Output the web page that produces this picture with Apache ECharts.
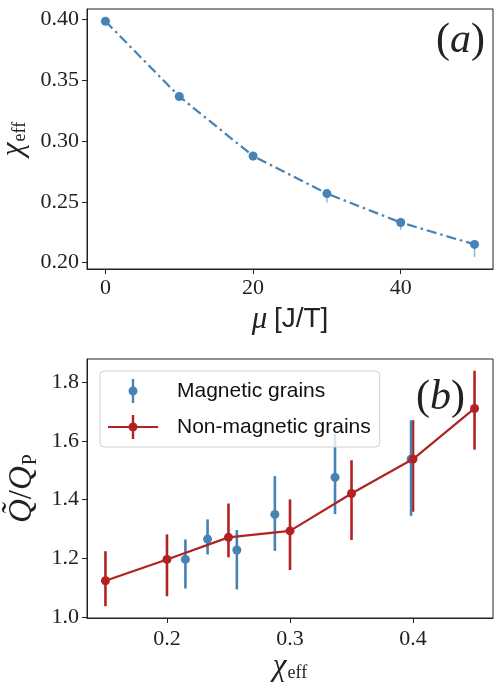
<!DOCTYPE html>
<html>
<head>
<meta charset="utf-8">
<script src="https://cdn.jsdelivr.net/npm/echarts@6/dist/echarts.min.js"></script>
<style>
html, body { margin: 0; padding: 0; background: #fff; }
#chart { width: 495px; height: 682px; }
</style>
</head>
<body>
<div id="chart"></div>
<script>
// (a) chi_eff against mu
const muValues = [0, 10, 20, 30, 40, 50];
const chiValues = [0.3984, 0.3366, 0.2877, 0.2568, 0.2330, 0.2150];
const chiLower = [0.3965, 0.3330, 0.2840, 0.2494, 0.2270, 0.2046];

// (b) Q~/Q_P against chi_eff
const magChi = [0.2150, 0.2330, 0.2568, 0.2877, 0.3366, 0.3984];
const magQ = [1.197, 1.266, 1.229, 1.350, 1.476, 1.538];
const magLow = [1.098, 1.214, 1.095, 1.226, 1.351, 1.345];
const magHigh = [1.265, 1.333, 1.297, 1.480, 1.625, 1.670];

const nonMagChi = [0.15, 0.20, 0.25, 0.30, 0.35, 0.40, 0.45];
const nonMagQ = [1.1245, 1.197, 1.272, 1.294, 1.421, 1.538, 1.710];
const nonMagLow = [1.038, 1.072, 1.204, 1.161, 1.263, 1.359, 1.570];
const nonMagHigh = [1.225, 1.282, 1.387, 1.401, 1.534, 1.670, 1.838];

// tick labels
const muTicks = [0, 20, 40];
const chiTicks = [0.20, 0.25, 0.30, 0.35, 0.40];
const chiEffTicks = [0.2, 0.3, 0.4];
const qTicks = [1.0, 1.2, 1.4, 1.6, 1.8];

const serif = 'Liberation Serif';
const sans = 'Liberation Sans';
const blue = '#4682b4';
const red = '#b22222';
const ink = '#222';

const chart = echarts.init(document.getElementById('chart'));

function zip() {
    const cols = Array.prototype.slice.call(arguments);
    return cols[0].map((v, i) => cols.map(c => c[i]));
}

// vertical error bars drawn through the axes
function errorBars(x, y, data, color, width, dash, opacity) {
    return {
        type: 'custom',
        xAxisIndex: x,
        yAxisIndex: y,
        silent: true,
        data: data,
        encode: { x: 0, y: [1, 2] },
        renderItem: function (params, api) {
            const a = api.coord([api.value(0), api.value(1)]);
            const b = api.coord([api.value(0), api.value(2)]);
            return {
                type: 'line',
                shape: { x1: a[0], y1: a[1], x2: b[0], y2: b[1] },
                style: { stroke: color, lineWidth: width, lineDash: dash || null, opacity: opacity || 1 }
            };
        }
    };
}

function axis(extra) {
    const base = {
        type: 'value',
        axisLine: { show: true, onZero: false, lineStyle: { color: ink, width: 1 } },
        axisTick: { show: true, inside: false, length: 5, lineStyle: { color: ink } },
        splitLine: { show: false },
        axisLabel: { fontFamily: serif, fontSize: 22, color: ink }
    };
    return Object.assign(base, extra);
}

const mathRich = {
    i: { fontFamily: serif, fontStyle: 'italic', fontSize: 31, color: ink, verticalAlign: 'top' },
    s: { fontFamily: serif, fontSize: 18, color: ink, verticalAlign: 'top', padding: [13, 0, 0, 1] },
    r: { fontFamily: serif, fontSize: 30, color: ink, verticalAlign: 'top' },
    t: { fontFamily: sans, fontSize: 28, color: ink, verticalAlign: 'top', padding: [1, 0, 0, 0] }
};

// legend icons, 64x24 boxes (zero-area points fix the box)
const box = 'M0 0 L0 0 M64 24 L64 24 ';
const dot = 'M20.5 12 A4.5 4.5 0 1 1 29.5 12 A4.5 4.5 0 1 1 20.5 12 Z ';
const vbar = 'M23.8 0 L26.2 0 L26.2 24 L23.8 24 Z ';
const hbar = 'M0 11 L50 11 L50 13 L0 13 Z ';
const blueIcon = 'path://' + box + vbar + dot;
const redIcon = 'path://' + box + hbar + vbar + dot;

const option = {
    animation: false,
    backgroundColor: '#fff',
    grid: [
        { left: 87, top: 9, width: 406, height: 260, show: true, borderColor: ink, borderWidth: 1, containLabel: false, outerBoundsMode: 'none' },
        { left: 87, top: 359, width: 406, height: 259, show: true, borderColor: ink, borderWidth: 1, containLabel: false, outerBoundsMode: 'none' }
    ],
    xAxis: [
        axis({
            gridIndex: 0, min: -2.5, max: 52.5,
            axisTick: { show: true, length: 5, lineStyle: { color: ink }, customValues: muTicks },
            axisLabel: { fontFamily: serif, fontSize: 22, color: ink, margin: 8, customValues: muTicks },
            name: '{i|μ}  {t|[J/T]}',
            nameLocation: 'middle',
            nameGap: 35,
            nameTextStyle: { rich: mathRich }
        }),
        axis({
            gridIndex: 1, min: 0.135, max: 0.465,
            axisTick: { show: true, length: 5, lineStyle: { color: ink }, customValues: chiEffTicks },
            axisLabel: { fontFamily: serif, fontSize: 22, color: ink, margin: 10, customValues: chiEffTicks,
                formatter: v => v.toFixed(1) },
            name: '{i|χ}{s|eff}',
            nameLocation: 'middle',
            nameGap: 33,
            nameTextStyle: { rich: mathRich }
        })
    ],
    yAxis: [
        axis({
            gridIndex: 0, min: 0.1948, max: 0.4085,
            axisTick: { show: true, length: 5, lineStyle: { color: ink }, customValues: chiTicks },
            axisLabel: { fontFamily: serif, fontSize: 22, color: ink, margin: 8, customValues: chiTicks,
                formatter: v => v.toFixed(2) },
            name: '{i|χ}{s|eff}',
            nameLocation: 'middle',
            nameRotate: 90,
            nameGap: 47,
            nameTextStyle: { rich: mathRich }
        }),
        axis({
            gridIndex: 1, min: 0.998, max: 1.878,
            axisTick: { show: true, length: 5, lineStyle: { color: ink }, customValues: qTicks },
            axisLabel: { fontFamily: serif, fontSize: 22, color: ink, margin: 8, customValues: qTicks,
                formatter: v => v.toFixed(1) },
            name: '{i|Q̃}{r|/}{i|Q}{s|P}',
            nameLocation: 'middle',
            nameRotate: 90,
            nameGap: 42,
            nameTextStyle: { rich: {
                i: { fontFamily: serif, fontStyle: 'italic', fontSize: 33, color: ink, verticalAlign: 'top' },
                r: { fontFamily: serif, fontSize: 33, color: ink, verticalAlign: 'top' },
                s: { fontFamily: serif, fontSize: 20, color: ink, verticalAlign: 'top', padding: [15, 0, 0, 1] }
            } }
        })
    ],
    legend: {
        orient: 'vertical',
        left: 100,
        top: 371,
        padding: [8, 9, 8, 8],
        itemGap: 12,
        itemWidth: 64,
        itemHeight: 24,
        backgroundColor: 'rgba(255,255,255,0.8)',
        borderColor: '#d0d0d0',
        borderWidth: 1,
        borderRadius: 4,
        itemStyle: { borderWidth: 0, opacity: 1 },
        textStyle: { fontFamily: sans, fontSize: 21, color: '#111' },
        data: [
            { name: 'Magnetic grains', icon: blueIcon },
            { name: 'Non-magnetic grains', icon: redIcon }
        ]
    },
    graphic: [
        {
            type: 'text', right: 10, top: 20,
            style: {
                text: '{p|(}{a|a}{p|)}',
                rich: {
                    p: { fontFamily: serif, fontSize: 42, fill: ink },
                    a: { fontFamily: serif, fontStyle: 'italic', fontSize: 42, fill: ink }
                }
            }
        },
        {
            type: 'text', left: 416, top: 377,
            style: {
                text: '{p|(}{a|b}{p|)}',
                rich: {
                    p: { fontFamily: serif, fontSize: 42, fill: ink },
                    a: { fontFamily: serif, fontStyle: 'italic', fontSize: 42, fill: ink }
                }
            }
        }
    ],
    series: [
        errorBars(0, 0, zip(muValues, chiLower, chiValues), blue, 1.5, [10, 4, 2.5, 4], 0.6),
        {
            type: 'line',
            xAxisIndex: 0,
            yAxisIndex: 0,
            data: zip(muValues, chiValues),
            symbol: 'circle',
            symbolSize: 9,
            itemStyle: { color: blue },
            lineStyle: { color: blue, width: 2.2, type: [10, 4, 2.5, 4] }
        },
        errorBars(1, 1, zip(nonMagChi, nonMagLow, nonMagHigh), red, 2.6),
        errorBars(1, 1, zip(magChi, magLow, magHigh), blue, 2.6),
        {
            name: 'Magnetic grains',
            type: 'scatter',
            xAxisIndex: 1,
            yAxisIndex: 1,
            data: zip(magChi, magQ),
            symbol: 'circle',
            symbolSize: 9,
            itemStyle: { color: blue, opacity: 1 }
        },
        {
            name: 'Non-magnetic grains',
            type: 'line',
            xAxisIndex: 1,
            yAxisIndex: 1,
            data: zip(nonMagChi, nonMagQ),
            symbol: 'circle',
            symbolSize: 9,
            itemStyle: { color: red },
            lineStyle: { color: red, width: 2.2 }
        }
    ]
};

chart.setOption(option);
</script>
</body>
</html>
